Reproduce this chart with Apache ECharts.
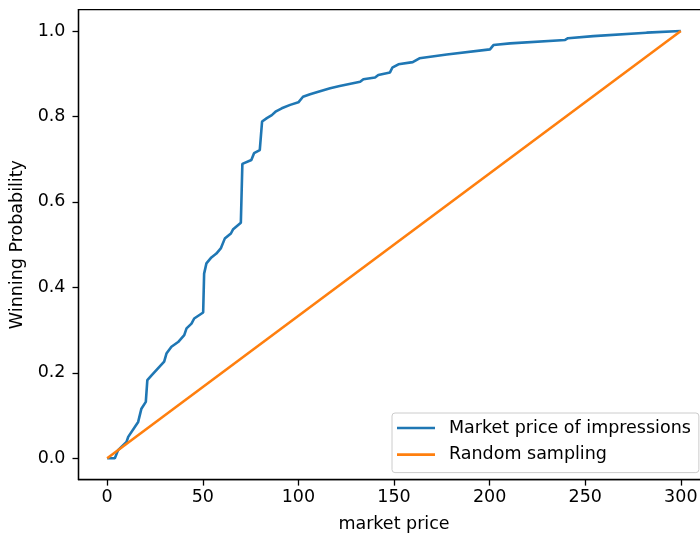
<!DOCTYPE html>
<html>
<head>
<meta charset="utf-8">
<script src="https://cdn.jsdelivr.net/npm/echarts@6/dist/echarts.min.js"></script>
<style>
  html, body { margin: 0; padding: 0; background: #fff; }
  #chart { width: 700px; height: 536px; }
</style>
</head>
<body>
<div id="chart"></div>
<script>
// Empirical CDF of market prices (winning probability vs. bid price)
const marketPrice = [0, 4, 5.7, 10.1, 11, 16.2, 17.9, 20.2, 21, 23.2, 29.8, 31, 33.6, 37.1, 40.3, 41.5, 44.1, 45.5, 50.2, 50.7, 51.9, 54.5, 57.1, 59.4, 61.5, 64.7, 65.9, 69.9, 70.7, 75.4, 76.8, 79.8, 81.0, 83.5, 86.1, 88.3, 91.3, 95.7, 100, 102.4, 106.1, 111.3, 116.6, 121.6, 132.3, 134, 140.1, 141.8, 147.9, 149.1, 152.3, 159.8, 163.3, 177.6, 200.2, 202, 210.7, 239.5, 241, 254.2, 282.1, 300];
const winProb = [0, 0, 0.019, 0.038, 0.05, 0.085, 0.116, 0.132, 0.183, 0.194, 0.226, 0.245, 0.261, 0.272, 0.288, 0.304, 0.315, 0.327, 0.341, 0.432, 0.456, 0.470, 0.479, 0.491, 0.514, 0.526, 0.536, 0.551, 0.689, 0.698, 0.714, 0.721, 0.788, 0.796, 0.803, 0.812, 0.819, 0.827, 0.833, 0.846, 0.852, 0.859, 0.866, 0.871, 0.881, 0.887, 0.891, 0.897, 0.903, 0.914, 0.922, 0.927, 0.936, 0.945, 0.957, 0.967, 0.971, 0.979, 0.983, 0.988, 0.996, 1.0];

// Uniform baseline
const randomPrice = [0, 300];
const randomProb = [0, 1];

const seriesNames = ['Market price of impressions', 'Random sampling'];
const xTicks = [0, 50, 100, 150, 200, 250, 300];
const yTicks = [0, 0.2, 0.4, 0.6, 0.8, 1.0];

const FONT = 'DejaVu Sans';
const FS = 17.5;
const zip = (xs, ys) => xs.map((x, i) => [x, ys[i]]);

const chart = echarts.init(document.getElementById('chart'), null, { renderer: 'canvas' });
chart.setOption({
  animation: false,
  backgroundColor: '#fff',
  textStyle: { fontFamily: FONT },
  grid: {
    left: 78.5, top: 9.6, width: 631, height: 470,
    outerBoundsMode: 'none', containLabel: false,
    show: true, borderColor: '#000', borderWidth: 1.3, backgroundColor: 'transparent'
  },
  legend: {
    data: seriesNames,
    orient: 'vertical',
    left: 392, top: 413,
    icon: 'rect',
    itemWidth: 38, itemHeight: 2.6,
    itemGap: 8.6,
    padding: [6, 8, 9, 5],
    backgroundColor: 'rgba(255,255,255,0.8)',
    borderColor: '#cccccc', borderWidth: 1, borderRadius: 3,
    textStyle: { fontFamily: FONT, fontSize: FS, color: '#000', lineHeight: 17, padding: [0, 0, 0, 9] }
  },
  xAxis: {
    type: 'value', min: -15, max: 315,
    name: 'market price', nameLocation: 'middle', nameGap: 36,
    nameTextStyle: { fontFamily: FONT, fontSize: FS, color: '#000' },
    axisLine: { show: true, onZero: false, lineStyle: { color: '#000', width: 1.3 } },
    axisTick: { show: true, inside: false, length: 6, lineStyle: { color: '#000', width: 1.3 }, customValues: xTicks },
    axisLabel: { color: '#000', fontSize: FS, fontFamily: FONT, margin: 8.5, customValues: xTicks },
    splitLine: { show: false }
  },
  yAxis: {
    type: 'value', min: -0.05, max: 1.05,
    name: 'Winning Probability', nameLocation: 'middle', nameGap: 44, nameRotate: 90,
    nameTextStyle: { fontFamily: FONT, fontSize: FS, color: '#000' },
    axisLine: { show: true, onZero: false, lineStyle: { color: '#000', width: 1.3 } },
    axisTick: { show: true, inside: false, length: 6, lineStyle: { color: '#000', width: 1.3 }, customValues: yTicks },
    axisLabel: { color: '#000', fontSize: FS, fontFamily: FONT, margin: 13, customValues: yTicks,
      formatter: v => v.toFixed(1) },
    splitLine: { show: false }
  },
  series: [
    {
      name: seriesNames[0], type: 'line', data: zip(marketPrice, winProb),
      showSymbol: false, color: '#1f77b4',
      lineStyle: { color: '#1f77b4', width: 2.6 }
    },
    {
      name: seriesNames[1], type: 'line', data: zip(randomPrice, randomProb),
      showSymbol: false, color: '#ff7f0e',
      lineStyle: { color: '#ff7f0e', width: 2.6 }
    }
  ]
});
</script>
</body>
</html>
